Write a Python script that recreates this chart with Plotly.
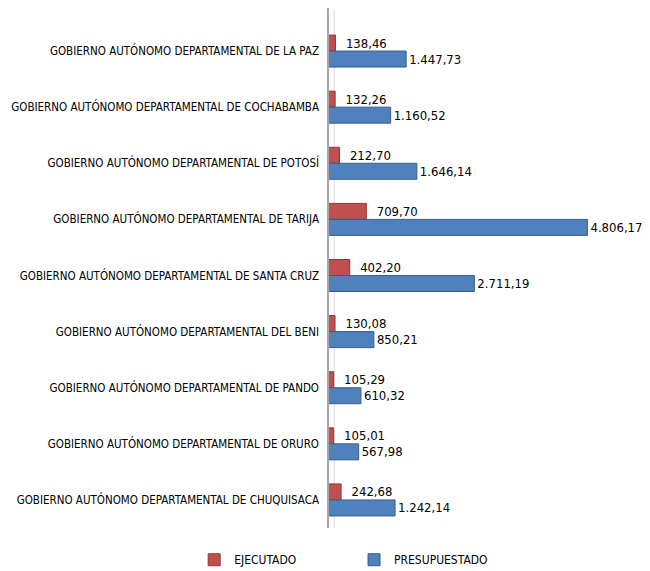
import plotly.graph_objects as go

categories = [
    "GOBIERNO AUTÓNOMO DEPARTAMENTAL DE LA PAZ",
    "GOBIERNO AUTÓNOMO DEPARTAMENTAL DE COCHABAMBA",
    "GOBIERNO AUTÓNOMO DEPARTAMENTAL DE POTOSÍ",
    "GOBIERNO AUTÓNOMO DEPARTAMENTAL DE TARIJA",
    "GOBIERNO AUTÓNOMO DEPARTAMENTAL DE SANTA CRUZ",
    "GOBIERNO AUTÓNOMO DEPARTAMENTAL DEL BENI",
    "GOBIERNO AUTÓNOMO DEPARTAMENTAL DE PANDO",
    "GOBIERNO AUTÓNOMO DEPARTAMENTAL DE ORURO",
    "GOBIERNO AUTÓNOMO DEPARTAMENTAL DE CHUQUISACA",
]
ejecutado = [138.46, 132.26, 212.70, 709.70, 402.20, 130.08, 105.29, 105.01, 242.68]
presupuestado = [1447.73, 1160.52, 1646.14, 4806.17, 2711.19, 850.21, 610.32, 567.98, 1242.14]


def fmt(v):
    s = f"{v:,.2f}"
    return s.replace(",", "X").replace(".", ",").replace("X", ".")


FONT = "DejaVu Sans Condensed"

fig = go.Figure()
fig.add_trace(go.Bar(
    y=categories, x=ejecutado, orientation="h", name="EJECUTADO",
    marker=dict(color="#C0504D", line=dict(color="#8C3836", width=1)),
    text=["  " + fmt(v) for v in ejecutado], textposition="outside",
    textfont=dict(family=FONT, size=13, color="#000000"), cliponaxis=False,
    legend="legend",
))
fig.add_trace(go.Bar(
    y=categories, x=presupuestado, orientation="h", name="PRESUPUESTADO",
    marker=dict(color="#4F81BD", line=dict(color="#385D8A", width=1)),
    text=[fmt(v) for v in presupuestado], textposition="outside",
    textfont=dict(family=FONT, size=13, color="#000000"), cliponaxis=False,
    legend="legend2",
))

legend_common = dict(orientation="h", xref="container", yref="container",
                     y=0.02, yanchor="middle", xanchor="left",
                     font=dict(family=FONT, size=12), itemwidth=30,
                     bgcolor="rgba(0,0,0,0)")

fig.update_layout(
    width=642, height=563,
    margin=dict(l=320, r=10, t=15, b=43, autoexpand=False),
    barmode="group", bargap=0.43, bargroupgap=0.0,
    plot_bgcolor="white", paper_bgcolor="white",
    font=dict(family=FONT, size=11.5, color="#000000"),
    showlegend=True,
    legend=dict(x=0.29, **legend_common),
    legend2=dict(x=0.539, **legend_common),
    shapes=[
        dict(type="line", xref="paper", yref="paper", x0=0, x1=0, y0=0, y1=1.03,
             line=dict(color="#A6A6A6", width=2), layer="above"),
        dict(type="line", xref="paper", yref="paper", x0=0.02, x1=0.02, y0=0, y1=1.026,
             line=dict(color="#D9D9D9", width=1), layer="below"),
    ],
)
fig.update_xaxes(visible=False, range=[0, 5780])
fig.update_yaxes(autorange="reversed", showline=False,
                 ticks="", ticklabelstandoff=8, showgrid=False, automargin=False,
                 tickfont=dict(family=FONT, size=11.5))

fig.write_html("out.html")
